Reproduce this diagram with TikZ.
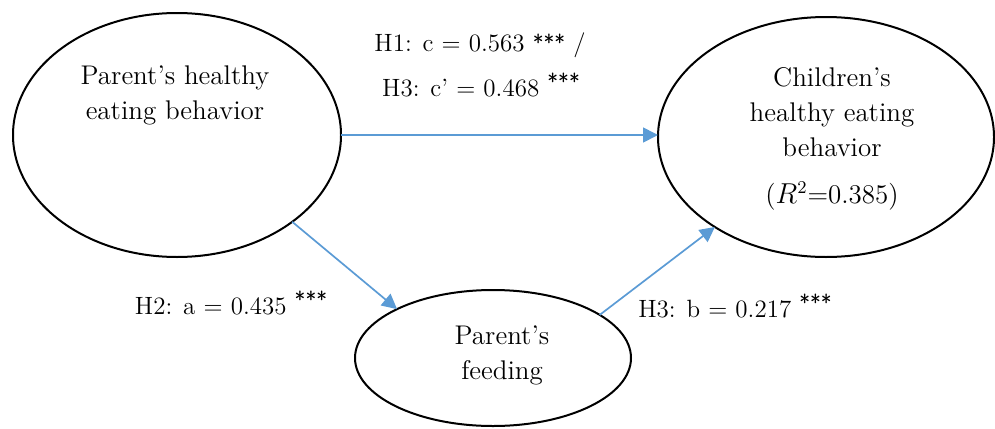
\documentclass[tikz,border=0pt]{standalone}
\usepackage{tikz}
\usetikzlibrary{shapes.geometric,arrows.meta}
\definecolor{pathblue}{RGB}{91,155,213}
\newcommand{\sig}[1][0.6ex]{\ \raisebox{#1}{\sffamily\fontsize{11}{11}\selectfont ***}}
\begin{document}
\begin{tikzpicture}[x=0.5pt, y=-0.5pt,
    construct/.style={draw, ellipse, line width=1pt, inner sep=0pt, outer sep=0pt},
    effect/.style={draw=pathblue, line width=0.85pt, -{Triangle[length=7.5pt,width=7.5pt]}},
    txt/.style={font=\fontsize{13.5}{17.5}\selectfont, align=center},
    coef/.style={font=\fontsize{12.5}{15}\selectfont, inner sep=1pt}]
    \useasboundingbox (0,0) rectangle (995,428);
    % constructs
    \node[construct, minimum width=164pt, minimum height=122pt] (parent) at (177,135) {};
    \node[construct, minimum width=168pt, minimum height=120pt] (child) at (826,137) {};
    \node[construct, minimum width=138pt, minimum height=68pt] (feeding) at (493,358) {};
    \node[txt] (parentlbl) at (175,95) {Parent’s healthy\\eating behavior};
    \node[txt] (childlbl) at (832,139) {Children’s\\healthy eating\\behavior\\[6pt]($R^{2}$=0.385)};
    \node[txt] (feedinglbl) at (502,355) {Parent’s\\feeding};
    % paths
    \draw[effect] (parent.east) -- (parent.east -| child.west);
    \draw[effect] (parent.-37) -- (feeding.153);
    \draw[effect] (feeding.22) -- (child.219);
    % coefficients
    \node[coef] (cH1) at (480,45) {H1: c = 0.563\sig[0.1ex] /};
    \node[coef] (cH3) at (481,85) {H3: c’ = 0.468\sig};
    \node[coef] (aH2) at (231,303) {H2: a = 0.435\sig};
    \node[coef] (bH3) at (735,306) {H3: b = 0.217\sig};
\end{tikzpicture}
\end{document}
